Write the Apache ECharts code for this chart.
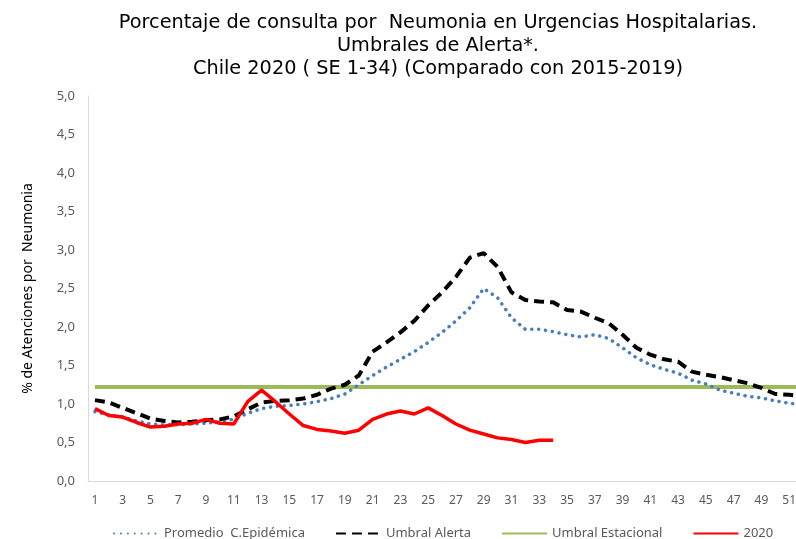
<!DOCTYPE html>
<html><head><meta charset="utf-8">
<script src="https://cdn.jsdelivr.net/npm/echarts@6/dist/echarts.min.js"></script>
<style>html,body{margin:0;padding:0;background:#fff}#c{width:796px;height:539px}</style>
</head><body><div id="c"></div>
<script>
const weeks = Array.from({length: 52}, (_, i) => String(i + 1));
const promedio = [0.90,0.86,0.83,0.78,0.74,0.73,0.73,0.74,0.75,0.77,0.80,0.88,0.94,0.97,0.98,1.00,1.03,1.07,1.13,1.25,1.37,1.48,1.58,1.68,1.80,1.93,2.08,2.25,2.50,2.38,2.12,1.97,1.97,1.94,1.90,1.87,1.90,1.85,1.73,1.60,1.51,1.45,1.40,1.31,1.26,1.18,1.14,1.10,1.08,1.04,1.01,0.99];
const umbralAlerta = [1.05,1.02,0.95,0.88,0.81,0.78,0.76,0.77,0.79,0.80,0.84,0.93,1.02,1.04,1.05,1.07,1.12,1.20,1.25,1.37,1.68,1.80,1.93,2.08,2.28,2.45,2.65,2.90,2.96,2.78,2.45,2.35,2.33,2.32,2.22,2.20,2.12,2.05,1.90,1.73,1.64,1.58,1.55,1.42,1.38,1.35,1.31,1.27,1.21,1.13,1.12,1.10];
const umbralEstacional = weeks.map(() => 1.22);
const y2020 = [0.94,0.85,0.83,0.76,0.70,0.71,0.74,0.75,0.80,0.75,0.74,1.03,1.18,1.03,0.87,0.72,0.67,0.65,0.62,0.66,0.80,0.87,0.91,0.87,0.95,0.85,0.74,0.66,0.61,0.56,0.54,0.50,0.53,0.53];
const titleText = 'Porcentaje de consulta por  Neumonia en Urgencias Hospitalarias.\nUmbrales de Alerta*.\nChile 2020 ( SE 1-34) (Comparado con 2015-2019)';

const chart = echarts.init(document.getElementById('c'), null, {renderer: 'canvas'});
chart.setOption({
  animation: false,
  backgroundColor: '#fff',
  title: {
    text: titleText,
    left: 433, top: 6, textAlign: 'center',
    textStyle: {fontFamily: 'DejaVu Sans', fontSize: 19.3, fontWeight: 'normal', color: '#000', lineHeight: 23}
  },
  grid: {left: 88, width: 722, top: 96, height: 385, containLabel: false, outerBoundsMode: 'none'},
  legend: {
    top: 522, left: 108, itemGap: 30, itemWidth: 45, itemHeight: 10,
    itemStyle: {opacity: 0},
    textStyle: {fontFamily: 'Noto Sans', fontSize: 13, color: '#595959'},
    data: ['Promedio  C.Epidémica', 'Umbral Alerta', 'Umbral Estacional', '2020']
  },
  xAxis: {
    type: 'category', data: weeks, boundaryGap: true,
    axisLine: {show: true, lineStyle: {color: '#d9d9d9', width: 1}},
    axisTick: {show: false},
    axisLabel: {interval: 1, color: '#595959', fontFamily: 'Noto Sans', fontSize: 12, margin: 14}
  },
  yAxis: {
    type: 'value', min: 0, max: 5, interval: 0.5,
    name: '% de Atenciones por  Neumonia', nameLocation: 'middle', nameRotate: 90, nameGap: 53,
    nameTextStyle: {fontFamily: 'Noto Sans', fontSize: 14, color: '#000'},
    axisLine: {show: true, lineStyle: {color: '#d9d9d9', width: 1}},
    axisTick: {show: false},
    splitLine: {show: false},
    axisLabel: {color: '#595959', fontFamily: 'Noto Sans', fontSize: 13, margin: 13,
      formatter: v => v.toFixed(1).replace('.', ',')}
  },
  series: [
    {name: 'Promedio  C.Epidémica', type: 'line', data: promedio, symbol: 'none', smooth: false,
      lineStyle: {color: '#4a7ebb', width: 3.5, type: [0.1, 6.8], cap: 'round'}, itemStyle: {color: '#4a7ebb'}, z: 2},
    {name: 'Umbral Alerta', type: 'line', data: umbralAlerta, symbol: 'none',
      lineStyle: {color: '#000', width: 4, type: [10, 6]}, itemStyle: {color: '#000'}, z: 3},
    {name: 'Umbral Estacional', type: 'line', data: umbralEstacional, symbol: 'none',
      lineStyle: {color: '#9bbb59', width: 4}, itemStyle: {color: '#9bbb59'}, z: 1},
    {name: '2020', type: 'line', data: y2020, symbol: 'none',
      lineStyle: {color: '#ff0000', width: 3.5}, itemStyle: {color: '#ff0000'}, z: 4}
  ]
});
</script></body></html>
